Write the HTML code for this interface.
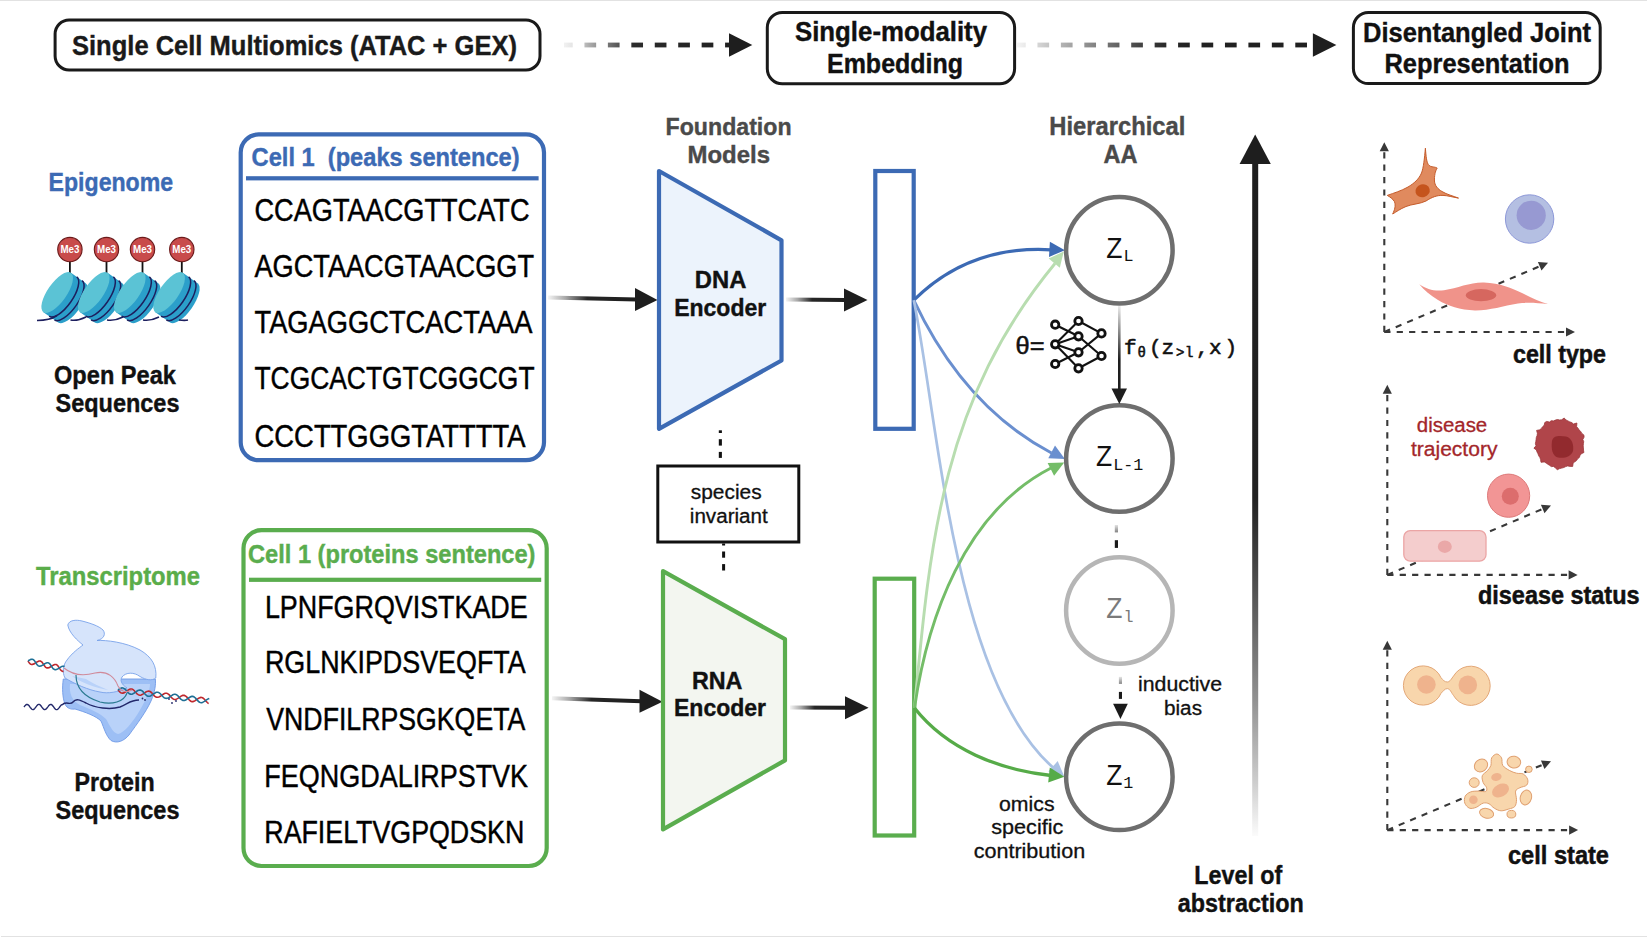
<!DOCTYPE html>
<html><head><meta charset="utf-8"><title>diagram</title>
<style>html,body{margin:0;padding:0;background:#fff;width:1648px;height:937px;overflow:hidden} svg{display:block}</style>
</head><body>
<svg width="1648" height="937" viewBox="0 0 1648 937">
<rect width="1648" height="937" fill="#fff"/>
<defs>
<linearGradient id="gA" x1="0" y1="0" x2="1" y2="0"><stop offset="0" stop-color="#f2f2f2"/><stop offset="0.45" stop-color="#777"/><stop offset="1" stop-color="#1e1e1e"/></linearGradient>
<linearGradient id="gShaft" x1="0" y1="0" x2="1" y2="0"><stop offset="0" stop-color="#dcdcdc"/><stop offset="0.35" stop-color="#333"/><stop offset="1" stop-color="#1e1e1e"/></linearGradient>
<linearGradient id="gV" x1="0" y1="0" x2="0" y2="1"><stop offset="0" stop-color="#e0e0e0"/><stop offset="0.4" stop-color="#222"/><stop offset="1" stop-color="#222"/></linearGradient>
<linearGradient id="gLvl" gradientUnits="userSpaceOnUse" x1="0" y1="160" x2="0" y2="836"><stop offset="0" stop-color="#1e1e1e"/><stop offset="0.5" stop-color="#222"/><stop offset="0.63" stop-color="#505050"/><stop offset="0.8" stop-color="#929292"/><stop offset="0.92" stop-color="#cdcdcd"/><stop offset="1" stop-color="#fbfbfb"/></linearGradient>
<linearGradient id="gVd" x1="0" y1="0" x2="0" y2="1"><stop offset="0" stop-color="#e6e6e6"/><stop offset="1" stop-color="#222"/></linearGradient>
</defs>
<rect x="0" y="0" width="1647" height="1" fill="#e2e2e2"/>
<rect x="1" y="936" width="1646" height="1" fill="#e2e2e2"/>
<rect x="55.1" y="20.0" width="484.9" height="50.0" rx="14" fill="#fff" stroke="#1a1a1a" stroke-width="3.0"/>
<text x="72" y="54.5" font-size="28" font-weight="bold" fill="#1a1a1a" text-anchor="start" font-family='"Liberation Sans", sans-serif' textLength="445" lengthAdjust="spacingAndGlyphs"  stroke="#1a1a1a" stroke-width="0.4">Single Cell Multiomics (ATAC + GEX)</text>
<rect x="767.3" y="12.45" width="247.30000000000007" height="71.3" rx="15" fill="#fff" stroke="#1a1a1a" stroke-width="3.0"/>
<text x="891" y="41.4" font-size="27.5" font-weight="bold" fill="#111" text-anchor="middle" font-family='"Liberation Sans", sans-serif' textLength="192" lengthAdjust="spacingAndGlyphs"  stroke="#111" stroke-width="0.4">Single-modality</text>
<text x="895" y="72.6" font-size="27.5" font-weight="bold" fill="#111" text-anchor="middle" font-family='"Liberation Sans", sans-serif' textLength="136" lengthAdjust="spacingAndGlyphs"  stroke="#111" stroke-width="0.4">Embedding</text>
<rect x="1353.4" y="12.5" width="246.79999999999995" height="71.1" rx="15" fill="#fff" stroke="#1a1a1a" stroke-width="3.0"/>
<text x="1477" y="41.5" font-size="27.5" font-weight="bold" fill="#111" text-anchor="middle" font-family='"Liberation Sans", sans-serif' textLength="228" lengthAdjust="spacingAndGlyphs"  stroke="#111" stroke-width="0.4">Disentangled Joint</text>
<text x="1477" y="72.5" font-size="27.5" font-weight="bold" fill="#111" text-anchor="middle" font-family='"Liberation Sans", sans-serif' textLength="185" lengthAdjust="spacingAndGlyphs"  stroke="#111" stroke-width="0.4">Representation</text>
<linearGradient id="gA1" gradientUnits="userSpaceOnUse" x1="561" y1="0" x2="729" y2="0"><stop offset="0" stop-color="#f6f6f6"/><stop offset="0.08" stop-color="#e2e2e2"/><stop offset="0.17" stop-color="#ababab"/><stop offset="0.31" stop-color="#666"/><stop offset="0.43" stop-color="#2c2c2c"/><stop offset="1" stop-color="#202020"/></linearGradient>
<rect x="564.00" y="42.6" width="8.70" height="4.8" fill="url(#gA1)"/>
<rect x="584.44" y="42.6" width="11.70" height="4.8" fill="url(#gA1)"/>
<rect x="607.88" y="42.6" width="11.70" height="4.8" fill="url(#gA1)"/>
<rect x="631.32" y="42.6" width="11.70" height="4.8" fill="url(#gA1)"/>
<rect x="654.76" y="42.6" width="11.70" height="4.8" fill="url(#gA1)"/>
<rect x="678.20" y="42.6" width="11.70" height="4.8" fill="url(#gA1)"/>
<rect x="701.64" y="42.6" width="11.70" height="4.8" fill="url(#gA1)"/>
<rect x="725.08" y="42.6" width="4.92" height="4.8" fill="url(#gA1)"/>
<polygon points="729,33.2 752.3,45 729,56.8" fill="#1e1e1e"/>
<linearGradient id="gA2" gradientUnits="userSpaceOnUse" x1="1014" y1="0" x2="1312.9" y2="0"><stop offset="0" stop-color="#f8f8f8"/><stop offset="0.03" stop-color="#ededed"/><stop offset="0.1" stop-color="#cccccc"/><stop offset="0.18" stop-color="#aaaaaa"/><stop offset="0.26" stop-color="#888"/><stop offset="0.34" stop-color="#666"/><stop offset="0.42" stop-color="#454545"/><stop offset="0.5" stop-color="#2c2c2c"/><stop offset="0.58" stop-color="#222"/><stop offset="1" stop-color="#202020"/></linearGradient>
<rect x="1017.00" y="42.6" width="8.70" height="4.8" fill="url(#gA2)"/>
<rect x="1037.44" y="42.6" width="11.70" height="4.8" fill="url(#gA2)"/>
<rect x="1060.88" y="42.6" width="11.70" height="4.8" fill="url(#gA2)"/>
<rect x="1084.32" y="42.6" width="11.70" height="4.8" fill="url(#gA2)"/>
<rect x="1107.76" y="42.6" width="11.70" height="4.8" fill="url(#gA2)"/>
<rect x="1131.20" y="42.6" width="11.70" height="4.8" fill="url(#gA2)"/>
<rect x="1154.64" y="42.6" width="11.70" height="4.8" fill="url(#gA2)"/>
<rect x="1178.08" y="42.6" width="11.70" height="4.8" fill="url(#gA2)"/>
<rect x="1201.52" y="42.6" width="11.70" height="4.8" fill="url(#gA2)"/>
<rect x="1224.96" y="42.6" width="11.70" height="4.8" fill="url(#gA2)"/>
<rect x="1248.40" y="42.6" width="11.70" height="4.8" fill="url(#gA2)"/>
<rect x="1271.84" y="42.6" width="11.70" height="4.8" fill="url(#gA2)"/>
<rect x="1295.28" y="42.6" width="11.70" height="4.8" fill="url(#gA2)"/>
<polygon points="1312.9,33.15 1336.4,45 1312.9,56.85" fill="#1e1e1e"/>
<text x="48.6" y="190.9" font-size="25.7" font-weight="bold" fill="#3c6ab4" text-anchor="start" font-family='"Liberation Sans", sans-serif' textLength="124.5" lengthAdjust="spacingAndGlyphs"  stroke="#3c6ab4" stroke-width="0.4">Epigenome</text>
<text x="115" y="383.9" font-size="26" font-weight="bold" fill="#111" text-anchor="middle" font-family='"Liberation Sans", sans-serif' textLength="122" lengthAdjust="spacingAndGlyphs"  stroke="#111" stroke-width="0.4">Open Peak</text>
<text x="117.5" y="411.9" font-size="26" font-weight="bold" fill="#111" text-anchor="middle" font-family='"Liberation Sans", sans-serif' textLength="124" lengthAdjust="spacingAndGlyphs"  stroke="#111" stroke-width="0.4">Sequences</text>
<text x="36" y="584.7" font-size="25.7" font-weight="bold" fill="#5aad4a" text-anchor="start" font-family='"Liberation Sans", sans-serif' textLength="164" lengthAdjust="spacingAndGlyphs"  stroke="#5aad4a" stroke-width="0.4">Transcriptome</text>
<text x="114.6" y="790.9" font-size="26" font-weight="bold" fill="#111" text-anchor="middle" font-family='"Liberation Sans", sans-serif' textLength="80" lengthAdjust="spacingAndGlyphs"  stroke="#111" stroke-width="0.4">Protein</text>
<text x="117.5" y="818.7" font-size="26" font-weight="bold" fill="#111" text-anchor="middle" font-family='"Liberation Sans", sans-serif' textLength="124" lengthAdjust="spacingAndGlyphs"  stroke="#111" stroke-width="0.4">Sequences</text>
<rect x="240.7" y="134.4" width="303.3" height="325.8" rx="18" fill="#fff" stroke="#3c6ab4" stroke-width="4.2"/>
<text x="251.6" y="166" font-size="25.3" font-weight="bold" fill="#3c6ab4" text-anchor="start" font-family='"Liberation Sans", sans-serif' textLength="268" lengthAdjust="spacingAndGlyphs"  stroke="#3c6ab4" stroke-width="0.4">Cell 1&#160;&#160;(peaks sentence)</text>
<rect x="246" y="176.2" width="292.6" height="4.2" fill="#3c6ab4"/>
<text x="254.5" y="220.8" font-size="31" font-weight="normal" fill="#000" text-anchor="start" font-family='"Liberation Sans", sans-serif' textLength="275" lengthAdjust="spacingAndGlyphs" stroke="#000" stroke-width="0.45">CCAGTAACGTTCATC</text>
<text x="254.5" y="276.6" font-size="31" font-weight="normal" fill="#000" text-anchor="start" font-family='"Liberation Sans", sans-serif' textLength="279.5" lengthAdjust="spacingAndGlyphs" stroke="#000" stroke-width="0.45">AGCTAACGTAACGGT</text>
<text x="254.5" y="332.8" font-size="31" font-weight="normal" fill="#000" text-anchor="start" font-family='"Liberation Sans", sans-serif' textLength="278" lengthAdjust="spacingAndGlyphs" stroke="#000" stroke-width="0.45">TAGAGGCTCACTAAA</text>
<text x="254.5" y="389.2" font-size="31" font-weight="normal" fill="#000" text-anchor="start" font-family='"Liberation Sans", sans-serif' textLength="280" lengthAdjust="spacingAndGlyphs" stroke="#000" stroke-width="0.45">TCGCACTGTCGGCGT</text>
<text x="254.5" y="446.6" font-size="31" font-weight="normal" fill="#000" text-anchor="start" font-family='"Liberation Sans", sans-serif' textLength="271" lengthAdjust="spacingAndGlyphs" stroke="#000" stroke-width="0.45">CCCTTGGGTATTTTA</text>
<rect x="243.5" y="530.2" width="303.2" height="335.8" rx="18" fill="#fff" stroke="#5aad4e" stroke-width="4.2"/>
<text x="248" y="562.6" font-size="25.3" font-weight="bold" fill="#5aad4e" text-anchor="start" font-family='"Liberation Sans", sans-serif' textLength="287.5" lengthAdjust="spacingAndGlyphs"  stroke="#5aad4e" stroke-width="0.4">Cell 1 (proteins sentence)</text>
<rect x="249" y="577.7" width="292.2" height="4.2" fill="#5aad4e"/>
<text x="264.90000000000003" y="618.2" font-size="31" font-weight="normal" fill="#000" text-anchor="start" font-family='"Liberation Sans", sans-serif' textLength="262.8" lengthAdjust="spacingAndGlyphs" stroke="#000" stroke-width="0.45">LPNFGRQVISTKADE</text>
<text x="264.90000000000003" y="673.2" font-size="31" font-weight="normal" fill="#000" text-anchor="start" font-family='"Liberation Sans", sans-serif' textLength="260.8" lengthAdjust="spacingAndGlyphs" stroke="#000" stroke-width="0.45">RGLNKIPDSVEQFTA</text>
<text x="266.3" y="730.2" font-size="31" font-weight="normal" fill="#000" text-anchor="start" font-family='"Liberation Sans", sans-serif' textLength="259" lengthAdjust="spacingAndGlyphs" stroke="#000" stroke-width="0.45">VNDFILRPSGKQETA</text>
<text x="264.3" y="787" font-size="31" font-weight="normal" fill="#000" text-anchor="start" font-family='"Liberation Sans", sans-serif' textLength="263.8" lengthAdjust="spacingAndGlyphs" stroke="#000" stroke-width="0.45">FEQNGDALIRPSTVK</text>
<text x="264.3" y="842.7" font-size="31" font-weight="normal" fill="#000" text-anchor="start" font-family='"Liberation Sans", sans-serif' textLength="260" lengthAdjust="spacingAndGlyphs" stroke="#000" stroke-width="0.45">RAFIELTVGPQDSKN</text>
<linearGradient id="sa1" gradientUnits="userSpaceOnUse" x1="548" y1="297.6" x2="635" y2="299.6"><stop offset="0" stop-color="#f4f4f4"/><stop offset="0.2" stop-color="#a8a8a8"/><stop offset="0.45" stop-color="#262626"/><stop offset="1" stop-color="#1e1e1e"/></linearGradient>
<line x1="548" y1="297.6" x2="637" y2="299.6" stroke="url(#sa1)" stroke-width="4"/>
<polygon points="635,288.1 657.5,300 635,311.1" fill="#1e1e1e"/>
<linearGradient id="sa2" gradientUnits="userSpaceOnUse" x1="786" y1="299.5" x2="844" y2="300"><stop offset="0" stop-color="#f4f4f4"/><stop offset="0.2" stop-color="#a8a8a8"/><stop offset="0.45" stop-color="#262626"/><stop offset="1" stop-color="#1e1e1e"/></linearGradient>
<line x1="786" y1="299.5" x2="846" y2="300" stroke="url(#sa2)" stroke-width="4"/>
<polygon points="844,288.5 867.5,300 844,311.5" fill="#1e1e1e"/>
<linearGradient id="sa3" gradientUnits="userSpaceOnUse" x1="552" y1="698.2" x2="639.5" y2="701.2"><stop offset="0" stop-color="#f4f4f4"/><stop offset="0.2" stop-color="#a8a8a8"/><stop offset="0.45" stop-color="#262626"/><stop offset="1" stop-color="#1e1e1e"/></linearGradient>
<line x1="552" y1="698.2" x2="641.5" y2="701.2" stroke="url(#sa3)" stroke-width="4"/>
<polygon points="639.5,689.7 662.5,701.7 639.5,712.7" fill="#1e1e1e"/>
<linearGradient id="sa4" gradientUnits="userSpaceOnUse" x1="790" y1="707.5" x2="845" y2="707.8"><stop offset="0" stop-color="#f4f4f4"/><stop offset="0.2" stop-color="#a8a8a8"/><stop offset="0.45" stop-color="#262626"/><stop offset="1" stop-color="#1e1e1e"/></linearGradient>
<line x1="790" y1="707.5" x2="847" y2="707.8" stroke="url(#sa4)" stroke-width="4"/>
<polygon points="845,696.3 868.6,707.8 845,719.3" fill="#1e1e1e"/>
<polygon points="659,171 781.5,240.3 781.5,360.5 659,428.8" fill="#ecf3fc" stroke="#3c6ab4" stroke-width="4.2" stroke-linejoin="round"/>
<text x="720.6" y="288.4" font-size="24" font-weight="bold" fill="#111" text-anchor="middle" font-family='"Liberation Sans", sans-serif' textLength="51.5" lengthAdjust="spacingAndGlyphs"  stroke="#111" stroke-width="0.4">DNA</text>
<text x="720.2" y="316" font-size="24" font-weight="bold" fill="#111" text-anchor="middle" font-family='"Liberation Sans", sans-serif' textLength="92" lengthAdjust="spacingAndGlyphs"  stroke="#111" stroke-width="0.4">Encoder</text>
<polygon points="663,571.2 785,639.2 785,760.4 663,829.4" fill="#f3f6f0" stroke="#5aad4e" stroke-width="4.2" stroke-linejoin="round"/>
<text x="717.2" y="688.5" font-size="24" font-weight="bold" fill="#111" text-anchor="middle" font-family='"Liberation Sans", sans-serif' textLength="50.5" lengthAdjust="spacingAndGlyphs"  stroke="#111" stroke-width="0.4">RNA</text>
<text x="720" y="715.8" font-size="24" font-weight="bold" fill="#111" text-anchor="middle" font-family='"Liberation Sans", sans-serif' textLength="92" lengthAdjust="spacingAndGlyphs"  stroke="#111" stroke-width="0.4">Encoder</text>
<text x="728.6" y="135.4" font-size="24.5" font-weight="bold" fill="#4a4a4a" text-anchor="middle" font-family='"Liberation Sans", sans-serif' textLength="126" lengthAdjust="spacingAndGlyphs"  stroke="#4a4a4a" stroke-width="0.4">Foundation</text>
<text x="728.8" y="163.1" font-size="24.5" font-weight="bold" fill="#4a4a4a" text-anchor="middle" font-family='"Liberation Sans", sans-serif' textLength="82.5" lengthAdjust="spacingAndGlyphs"  stroke="#4a4a4a" stroke-width="0.4">Models</text>
<rect x="875.3" y="171" width="38.4" height="257.8" fill="#fff" stroke="#3c6ab4" stroke-width="4.2"/>
<rect x="874.7" y="578.7" width="39.5" height="256.8" fill="#fff" stroke="#5aad4e" stroke-width="4.2"/>
<rect x="718.8" y="430.3" width="3.1" height="2.7" fill="#111"/>
<rect x="718.8" y="439.2" width="3.1" height="6.4" fill="#111"/>
<rect x="718.8" y="451.9" width="3.1" height="6.0" fill="#111"/>
<rect x="722.1" y="543.5" width="3.0" height="2.0" fill="#111"/>
<rect x="722.1" y="551.5" width="3.0" height="6.2" fill="#111"/>
<rect x="722.1" y="564.1" width="3.0" height="6.4" fill="#111"/>
<rect x="657.8" y="466" width="141" height="76" fill="#fff" stroke="#111" stroke-width="3"/>
<text x="726.2" y="498.7" font-size="19.5" font-weight="normal" fill="#111" text-anchor="middle" font-family='"Liberation Sans", sans-serif' textLength="70.8" lengthAdjust="spacingAndGlyphs" stroke="#111" stroke-width="0.3">species</text>
<text x="728.8" y="523.1" font-size="19.5" font-weight="normal" fill="#111" text-anchor="middle" font-family='"Liberation Sans", sans-serif' textLength="78" lengthAdjust="spacingAndGlyphs" stroke="#111" stroke-width="0.3">invariant</text>
<path d="M913.8,300.2 C 952.0,262.2 997.3,246.7 1051,249.8" fill="none" stroke="#3c6ab4" stroke-width="3.2"/>
<path d="M913.8,300.2 C 943.3,363 988.0,419.5 1051.5,453" fill="none" stroke="#6a8fcf" stroke-width="2.9"/>
<path d="M913.8,300.2 C 938.5,422.2 953.4,679.1 1053,767.5" fill="none" stroke="#a9c1e4" stroke-width="2.7"/>
<path d="M914.5,708.0 C 930.4,537.8 943.1,399.4 1055,263.5" fill="none" stroke="#b8ddb0" stroke-width="2.9"/>
<path d="M914.5,708.0 C 927.4,618.4 964.3,512.5 1051,468" fill="none" stroke="#74bd68" stroke-width="2.9"/>
<path d="M914.5,708.0 C 947.1,749.4 999.2,769.9 1051,775.5" fill="none" stroke="#56ab48" stroke-width="3.3"/>
<polygon points="1064.9,250.2 1049.0,256.9 1049.9,241.7" fill="#3c6ab4"/>
<polygon points="1063.8,251.5 1059.8,267.7 1048.7,258.5" fill="#b8ddb0"/>
<polygon points="1064.9,458.9 1048.3,458.3 1055.0,445.5" fill="#6a8fcf"/>
<polygon points="1064.2,462.5 1054.1,475.8 1047.6,463.0" fill="#74bd68"/>
<polygon points="1064.2,776.3 1048.3,771.5 1057.7,761.1" fill="#a9c1e4"/>
<polygon points="1064.4,776.7 1048.2,782.5 1049.8,767.6" fill="#56ab48"/>
<text x="1117.3" y="135" font-size="25.4" font-weight="bold" fill="#4a4a4a" text-anchor="middle" font-family='"Liberation Sans", sans-serif' textLength="136" lengthAdjust="spacingAndGlyphs"  stroke="#4a4a4a" stroke-width="0.4">Hierarchical</text>
<text x="1120.4" y="162.9" font-size="25.4" font-weight="bold" fill="#4a4a4a" text-anchor="middle" font-family='"Liberation Sans", sans-serif' textLength="34" lengthAdjust="spacingAndGlyphs"  stroke="#4a4a4a" stroke-width="0.4">AA</text>
<circle cx="1119.35" cy="250.2" r="53.25" fill="#fff" stroke="#6e6e6e" stroke-width="4.5"/>
<circle cx="1119.35" cy="458.5" r="53.25" fill="#fff" stroke="#6e6e6e" stroke-width="4.5"/>
<circle cx="1119.35" cy="610.5" r="53.25" fill="#fff" stroke="#b6b6b6" stroke-width="4.5"/>
<circle cx="1119.35" cy="776.85" r="53.25" fill="#fff" stroke="#6e6e6e" stroke-width="4.5"/>
<text x="1106.2" y="258.1" font-size="28.7" font-weight="normal" fill="#111" text-anchor="start" font-family='"Liberation Sans", sans-serif' textLength="16.2" lengthAdjust="spacingAndGlyphs" >Z</text>
<text x="1123.6" y="260.9" font-size="16.5" font-weight="normal" fill="#111" text-anchor="start" font-family='"Liberation Mono", monospace' textLength="10" lengthAdjust="spacingAndGlyphs" >L</text>
<text x="1096" y="466.1" font-size="28.7" font-weight="normal" fill="#111" text-anchor="start" font-family='"Liberation Sans", sans-serif' textLength="16.2" lengthAdjust="spacingAndGlyphs" >Z</text>
<text x="1113.3" y="470" font-size="16.5" font-weight="normal" fill="#111" text-anchor="start" font-family='"Liberation Mono", monospace' textLength="30" lengthAdjust="spacingAndGlyphs" >L-1</text>
<text x="1106.2" y="617.9" font-size="28.7" font-weight="normal" fill="#7a7a7a" text-anchor="start" font-family='"Liberation Sans", sans-serif' textLength="16.2" lengthAdjust="spacingAndGlyphs" >Z</text>
<text x="1123.5" y="622" font-size="16.5" font-weight="normal" fill="#7a7a7a" text-anchor="start" font-family='"Liberation Mono", monospace' textLength="10" lengthAdjust="spacingAndGlyphs" >l</text>
<text x="1106.2" y="785.2" font-size="28.7" font-weight="normal" fill="#111" text-anchor="start" font-family='"Liberation Sans", sans-serif' textLength="16.2" lengthAdjust="spacingAndGlyphs" >Z</text>
<text x="1123.3" y="788" font-size="16.5" font-weight="normal" fill="#111" text-anchor="start" font-family='"Liberation Mono", monospace' textLength="10" lengthAdjust="spacingAndGlyphs" >1</text>
<linearGradient id="gF" gradientUnits="userSpaceOnUse" x1="0" y1="306" x2="0" y2="360"><stop offset="0" stop-color="#ececec"/><stop offset="1" stop-color="#1e1e1e"/></linearGradient>
<line x1="1119.3" y1="306" x2="1119.3" y2="390" stroke="url(#gF)" stroke-width="2.6"/>
<polygon points="1111.5,388.5 1127,388.5 1119.3,404" fill="#1e1e1e"/>
<text x="1015.5" y="354.2" font-size="24.5" font-weight="normal" fill="#111" text-anchor="start" font-family='"Liberation Sans", sans-serif' textLength="29" lengthAdjust="spacingAndGlyphs" stroke="#111" stroke-width="0.5">θ=</text>
<line x1="1055.2" y1="324.7" x2="1078.5" y2="336.3" stroke="#111" stroke-width="2.1"/>
<line x1="1055.2" y1="344.3" x2="1078.5" y2="321" stroke="#111" stroke-width="2.1"/>
<line x1="1055.2" y1="344.3" x2="1078.5" y2="336.3" stroke="#111" stroke-width="2.1"/>
<line x1="1055.2" y1="344.3" x2="1078.5" y2="352.3" stroke="#111" stroke-width="2.1"/>
<line x1="1055.2" y1="344.3" x2="1078.5" y2="368.3" stroke="#111" stroke-width="2.1"/>
<line x1="1055.2" y1="364" x2="1078.5" y2="352.3" stroke="#111" stroke-width="2.1"/>
<line x1="1078.5" y1="321" x2="1101.5" y2="333.4" stroke="#111" stroke-width="2.1"/>
<line x1="1078.5" y1="336.3" x2="1101.5" y2="356" stroke="#111" stroke-width="2.1"/>
<line x1="1078.5" y1="352.3" x2="1101.5" y2="333.4" stroke="#111" stroke-width="2.1"/>
<line x1="1078.5" y1="368.3" x2="1101.5" y2="356" stroke="#111" stroke-width="2.1"/>
<circle cx="1055.2" cy="324.7" r="3.7" fill="#fff" stroke="#111" stroke-width="2.8"/>
<circle cx="1055.2" cy="344.3" r="3.7" fill="#fff" stroke="#111" stroke-width="2.8"/>
<circle cx="1055.2" cy="364" r="3.7" fill="#fff" stroke="#111" stroke-width="2.8"/>
<circle cx="1078.5" cy="321" r="3.7" fill="#fff" stroke="#111" stroke-width="2.8"/>
<circle cx="1078.5" cy="336.3" r="3.7" fill="#fff" stroke="#111" stroke-width="2.8"/>
<circle cx="1078.5" cy="352.3" r="3.7" fill="#fff" stroke="#111" stroke-width="2.8"/>
<circle cx="1078.5" cy="368.3" r="3.7" fill="#fff" stroke="#111" stroke-width="2.8"/>
<circle cx="1101.5" cy="333.4" r="3.7" fill="#fff" stroke="#111" stroke-width="2.8"/>
<circle cx="1101.5" cy="356" r="3.7" fill="#fff" stroke="#111" stroke-width="2.8"/>
<text y="353.8" font-family='"Liberation Mono", monospace' fill="#111" stroke="#111" stroke-width="0.55"><tspan x="1124" font-size="21">f</tspan><tspan x="1137.5" y="357" font-size="14">θ</tspan><tspan x="1149" y="353.8" font-size="21">(</tspan><tspan x="1161.5" font-size="21">z</tspan><tspan x="1176" y="356.5" font-size="14">&gt;</tspan><tspan x="1185" font-size="14">l</tspan><tspan x="1196" y="353.8" font-size="21">,</tspan><tspan x="1209" font-size="21">x</tspan><tspan x="1224.5" font-size="21">)</tspan></text>
<linearGradient id="gD1" gradientUnits="userSpaceOnUse" x1="0" y1="524" x2="0" y2="548"><stop offset="0" stop-color="#f0f0f0"/><stop offset="0.6" stop-color="#333"/><stop offset="1" stop-color="#1a1a1a"/></linearGradient>
<rect x="1114.8" y="525" width="3.2" height="7.4" fill="url(#gD1)"/>
<rect x="1114.8" y="540.2" width="3.2" height="7.7" fill="#1a1a1a"/>
<linearGradient id="gD2" gradientUnits="userSpaceOnUse" x1="0" y1="676" x2="0" y2="700"><stop offset="0" stop-color="#f0f0f0"/><stop offset="0.6" stop-color="#333"/><stop offset="1" stop-color="#1a1a1a"/></linearGradient>
<rect x="1118.9" y="676.8" width="3.1" height="7.1" fill="url(#gD2)"/>
<rect x="1118.9" y="691.9" width="3.1" height="7" fill="#1a1a1a"/>
<polygon points="1113.1,703.7 1127.8,703.7 1120.45,719" fill="#1a1a1a"/>
<text x="1180" y="691" font-size="19.5" font-weight="normal" fill="#111" text-anchor="middle" font-family='"Liberation Sans", sans-serif' textLength="84" lengthAdjust="spacingAndGlyphs" stroke="#111" stroke-width="0.3">inductive</text>
<text x="1183" y="714.6" font-size="19.5" font-weight="normal" fill="#111" text-anchor="middle" font-family='"Liberation Sans", sans-serif' textLength="38" lengthAdjust="spacingAndGlyphs" stroke="#111" stroke-width="0.3">bias</text>
<text x="1026.8" y="811" font-size="19.5" font-weight="normal" fill="#111" text-anchor="middle" font-family='"Liberation Sans", sans-serif' textLength="55.5" lengthAdjust="spacingAndGlyphs" stroke="#111" stroke-width="0.3">omics</text>
<text x="1027.3" y="833.8" font-size="19.5" font-weight="normal" fill="#111" text-anchor="middle" font-family='"Liberation Sans", sans-serif' textLength="72" lengthAdjust="spacingAndGlyphs" stroke="#111" stroke-width="0.3">specific</text>
<text x="1029.4" y="857.8" font-size="19.5" font-weight="normal" fill="#111" text-anchor="middle" font-family='"Liberation Sans", sans-serif' textLength="111.5" lengthAdjust="spacingAndGlyphs" stroke="#111" stroke-width="0.3">contribution</text>
<rect x="1252.2" y="160" width="6" height="676" fill="url(#gLvl)"/>
<polygon points="1239.6,164 1255.2,134.5 1270.8,164" fill="#1e1e1e"/>
<text x="1238.3" y="884.1" font-size="26" font-weight="bold" fill="#111" text-anchor="middle" font-family='"Liberation Sans", sans-serif' textLength="88" lengthAdjust="spacingAndGlyphs"  stroke="#111" stroke-width="0.4">Level of</text>
<text x="1240.8" y="912.1" font-size="26" font-weight="bold" fill="#111" text-anchor="middle" font-family='"Liberation Sans", sans-serif' textLength="126" lengthAdjust="spacingAndGlyphs"  stroke="#111" stroke-width="0.4">abstraction</text>
<line x1="1384.3" y1="332" x2="1384.3" y2="150.3" stroke="#383838" stroke-width="2.1" stroke-dasharray="6.2 6.2"/>
<polygon points="1384.3,142.3 1388.9,151.3 1379.7,151.3" fill="#383838"/>
<line x1="1384.3" y1="332" x2="1567" y2="332" stroke="#383838" stroke-width="2.1" stroke-dasharray="6.2 6.2"/>
<polygon points="1575.0,332.0 1566.0,336.6 1566.0,327.4" fill="#383838"/>
<line x1="1384.3" y1="332" x2="1540.6313304277553" y2="265.9149171313337" stroke="#383838" stroke-width="2.1" stroke-dasharray="6.2 6.2"/>
<polygon points="1548.0,262.8 1541.5,270.5 1537.9,262.1" fill="#383838"/>
<line x1="1387.3" y1="574.9" x2="1387.3" y2="392.7" stroke="#383838" stroke-width="2.1" stroke-dasharray="6.2 6.2"/>
<polygon points="1387.3,384.7 1391.9,393.7 1382.7,393.7" fill="#383838"/>
<line x1="1387.3" y1="574.9" x2="1569.6" y2="574.9" stroke="#383838" stroke-width="2.1" stroke-dasharray="6.2 6.2"/>
<polygon points="1577.6,574.9 1568.6,579.5 1568.6,570.3" fill="#383838"/>
<line x1="1387.3" y1="574.9" x2="1543.6361791667518" y2="508.5263625406887" stroke="#383838" stroke-width="2.1" stroke-dasharray="6.2 6.2"/>
<polygon points="1551.0,505.4 1544.5,513.2 1540.9,504.7" fill="#383838"/>
<line x1="1387.3" y1="830.1" x2="1387.3" y2="648.7" stroke="#383838" stroke-width="2.1" stroke-dasharray="6.2 6.2"/>
<polygon points="1387.3,640.7 1391.9,649.7 1382.7,649.7" fill="#383838"/>
<line x1="1387.3" y1="830.1" x2="1570.1" y2="830.1" stroke="#383838" stroke-width="2.1" stroke-dasharray="6.2 6.2"/>
<polygon points="1578.1,830.1 1569.1,834.7 1569.1,825.5" fill="#383838"/>
<line x1="1387.3" y1="830.1" x2="1543.6264931353762" y2="764.3034491323921" stroke="#383838" stroke-width="2.1" stroke-dasharray="6.2 6.2"/>
<polygon points="1551.0,761.2 1544.5,768.9 1540.9,760.5" fill="#383838"/>
<text x="1513" y="362.9" font-size="25" font-weight="bold" fill="#111" text-anchor="start" font-family='"Liberation Sans", sans-serif' textLength="93" lengthAdjust="spacingAndGlyphs" stroke="#111" stroke-width="0.5">cell type</text>
<text x="1478" y="604.1" font-size="25" font-weight="bold" fill="#111" text-anchor="start" font-family='"Liberation Sans", sans-serif' textLength="161.5" lengthAdjust="spacingAndGlyphs" stroke="#111" stroke-width="0.5">disease status</text>
<text x="1508" y="864" font-size="25" font-weight="bold" fill="#111" text-anchor="start" font-family='"Liberation Sans", sans-serif' textLength="101" lengthAdjust="spacingAndGlyphs" stroke="#111" stroke-width="0.5">cell state</text>
<text x="1452" y="432.3" font-size="20" font-weight="normal" fill="#a3262a" text-anchor="middle" font-family='"Liberation Sans", sans-serif' textLength="70.5" lengthAdjust="spacingAndGlyphs" stroke="#a3262a" stroke-width="0.3">disease</text>
<text x="1454.2" y="455.5" font-size="20" font-weight="normal" fill="#a3262a" text-anchor="middle" font-family='"Liberation Sans", sans-serif' textLength="86.5" lengthAdjust="spacingAndGlyphs" stroke="#a3262a" stroke-width="0.3">trajectory</text>
<path d="M1425.4,148.2 C1426,156 1426.5,163 1429,165.4 C1431,167.5 1435,166.5 1437.2,168.1 C1436,170 1434.5,173 1434.4,180 C1434.5,186 1438,189 1442,191.5 C1447,194.5 1453,196 1458.5,198.1 C1452,197 1448,195.6 1443,195.4 C1437,195.2 1432,197 1426,201 C1420,204 1412,204 1406,206.5 C1400,209 1396,212 1392.7,214 C1394.5,210 1396,206 1394.5,201.7 C1392.5,198.5 1390,197 1387.3,195.4 C1394,193 1401,191 1408,187 C1414,183.5 1419,179 1421.5,173 C1423.5,168 1424.5,158 1425.4,148.2 Z" fill="#e08a5e" stroke="#c55b2a" stroke-width="1"/>
<ellipse cx="1422.6" cy="190.8" rx="7.2" ry="6.4" transform="rotate(-15 1422.6 190.8)" fill="#c5541d"/>
<circle cx="1529.6" cy="219" r="24.2" fill="#b4bfe2" stroke="#8d98d8" stroke-width="1"/>
<circle cx="1531.2" cy="215.3" r="14.6" fill="#9799d2"/>
<path d="M1419.3,284.2 C1427,289 1434,291.5 1444,290.2 C1458,288 1470,282 1484,282.4 C1500,283 1512,288 1522,293 C1532,298 1540,302 1548,304 C1537,303 1528,302 1518,303.5 C1503,306 1490,310.5 1475,310.4 C1460,310 1448,306 1438,300 C1430,295 1424,290 1419.3,284.2 Z" fill="#f0938a"/>
<ellipse cx="1481" cy="295.2" rx="15.2" ry="6.1" fill="#d6675f"/>
<polygon points="1583.4,443.7 1583.2,445.8 1583.4,447.9 1583.5,450.1 1583.9,452.5 1581.2,453.8 1580.0,455.5 1579.3,457.5 1577.6,458.8 1576.5,460.6 1574.8,461.8 1573.1,463.0 1572.7,466.4 1570.2,466.4 1567.7,465.9 1565.7,466.6 1563.8,467.5 1561.7,468.1 1559.6,468.6 1557.3,469.7 1555.3,467.8 1553.5,466.4 1551.3,466.6 1549.5,465.3 1547.8,464.2 1546.1,463.0 1544.3,461.9 1541.0,462.3 1540.6,459.6 1539.9,457.5 1538.7,455.8 1538.0,453.8 1537.0,451.9 1536.4,449.9 1533.9,448.2 1536.0,445.8 1535.4,443.7 1535.8,441.6 1536.1,439.6 1536.3,437.5 1537.1,435.5 1537.4,433.3 1536.6,430.4 1539.8,429.8 1541.4,428.4 1542.6,426.7 1544.2,425.3 1544.8,422.5 1546.7,421.4 1549.5,422.1 1551.2,420.7 1553.5,420.9 1555.4,420.1 1557.5,419.5 1559.6,420.0 1561.7,419.8 1564.1,418.0 1566.0,419.9 1567.9,420.9 1569.8,421.9 1571.8,422.6 1573.4,424.0 1576.9,423.0 1576.6,426.7 1578.0,428.2 1579.2,430.0 1580.7,431.5 1581.8,433.4 1583.8,434.9 1584.1,437.1 1582.8,439.6 1583.7,441.6" fill="#b0454a" stroke="#9a3539" stroke-width="0.8"/>
<path d="M1552,441 C1553,435 1560,435.5 1566,436.5 C1572,438 1574,445 1573,451 C1571,457 1564,458.5 1558,457.5 C1552,456 1551,448 1552,441 Z" fill="#922a2e"/>
<ellipse cx="1508.6" cy="495.7" rx="21.1" ry="21.6" fill="#f29595" stroke="#dd7a7a" stroke-width="1"/>
<circle cx="1510.3" cy="496.2" r="8.5" fill="#dc6d6d"/>
<rect x="1403.8" y="530.6" width="82.2" height="30.6" rx="6.5" fill="#f4cdcd" stroke="#eba5a5" stroke-width="1.3"/>
<ellipse cx="1444.8" cy="546.7" rx="7" ry="6.2" fill="#eaa8a8"/>
<path d="M1447.3,682 C1450,682 1451.5,678.5 1453.6,676 A19.6,19.6 0 1 1 1453.6,695.6 C1451.5,693 1450,688.6 1447.3,688.6 C1444.5,688.6 1443,691.5 1441,693.3 A19.6,19.6 0 1 1 1441,677.7 C1443,680 1444.5,682 1447.3,682 Z" fill="#f8d6ac" stroke="#e3a777" stroke-width="1"/>
<circle cx="1426.4" cy="684.5" r="9.3" fill="#efb38d"/>
<circle cx="1467.8" cy="684.9" r="9.3" fill="#efb38d"/>
<path d="M1496.8,754.0 C1498.4,754.0 1500.5,755.9 1501.5,757.8 C1502.5,759.7 1501.4,763.4 1502.8,765.5 C1504.2,767.6 1507.4,769.3 1509.7,770.6 C1512.0,771.9 1514.2,772.6 1516.5,773.2 C1518.8,773.8 1521.5,773.0 1523.3,774.0 C1525.1,775.0 1527.0,777.4 1527.6,779.2 C1528.2,781.1 1528.0,783.7 1526.7,785.1 C1525.4,786.5 1521.8,786.7 1519.9,787.7 C1518.1,788.7 1516.2,789.1 1515.6,791.1 C1515.0,793.1 1516.6,797.1 1516.5,799.7 C1516.4,802.3 1516.1,805.0 1514.8,806.5 C1513.5,808.0 1511.1,808.3 1508.8,809.0 C1506.5,809.7 1503.5,810.9 1501.1,810.8 C1498.7,810.7 1496.3,809.4 1494.3,808.2 C1492.3,807.1 1491.0,804.8 1489.2,803.9 C1487.4,803.0 1485.4,802.5 1483.2,803.1 C1481.0,803.7 1478.6,806.4 1476.3,807.3 C1474.0,808.1 1471.4,808.9 1469.5,808.2 C1467.6,807.5 1465.5,805.1 1464.8,803.1 C1464.1,801.1 1464.3,798.1 1465.2,796.2 C1466.1,794.4 1468.2,792.9 1470.4,792.0 C1472.6,791.1 1475.5,791.2 1478.1,791.1 C1480.6,791.0 1484.3,792.1 1485.7,791.5 C1487.1,790.9 1487.0,789.2 1486.6,787.7 C1486.2,786.2 1483.9,784.6 1483.2,782.6 C1482.5,780.6 1481.6,777.7 1482.3,775.7 C1483.0,773.7 1486.1,772.3 1487.5,770.6 C1488.9,768.9 1490.2,767.6 1490.9,765.5 C1491.6,763.4 1490.7,759.7 1491.7,757.8 C1492.7,755.9 1495.2,754.0 1496.8,754.0 Z" fill="#f8d6ac" stroke="#e0a070" stroke-width="1"/>
<ellipse cx="1496.4" cy="777" rx="5.3" ry="3.8" transform="rotate(-15 1496.4 777)" fill="#efb38d"/>
<ellipse cx="1500.5" cy="790.5" rx="9" ry="6.3" transform="rotate(-28 1500.5 790.5)" fill="#efb38d"/>
<ellipse cx="1473.4" cy="799.7" rx="4.3" ry="4.3" transform="rotate(0 1473.4 799.7)" fill="#efb38d"/>
<ellipse cx="1481" cy="765.5" rx="7" ry="6" transform="rotate(-40 1481 765.5)" fill="#f8d6ac" stroke="#e0a070" stroke-width="1"/>
<ellipse cx="1513.9" cy="762.1" rx="6.8" ry="5.9" transform="rotate(10 1513.9 762.1)" fill="#f8d6ac" stroke="#e0a070" stroke-width="1"/>
<ellipse cx="1528.9" cy="769.3" rx="3.3" ry="3.2" transform="rotate(0 1528.9 769.3)" fill="#f8d6ac" stroke="#e0a070" stroke-width="1"/>
<ellipse cx="1474.2" cy="782.6" rx="5" ry="4.8" transform="rotate(0 1474.2 782.6)" fill="#f8d6ac" stroke="#e0a070" stroke-width="1"/>
<ellipse cx="1525.9" cy="797.5" rx="5.6" ry="7.5" transform="rotate(15 1525.9 797.5)" fill="#f8d6ac" stroke="#e0a070" stroke-width="1"/>
<ellipse cx="1486.6" cy="813.3" rx="7.2" ry="4.8" transform="rotate(15 1486.6 813.3)" fill="#f8d6ac" stroke="#e0a070" stroke-width="1"/>
<ellipse cx="1511.4" cy="814.2" rx="4.4" ry="3.8" transform="rotate(0 1511.4 814.2)" fill="#f8d6ac" stroke="#e0a070" stroke-width="1"/>
<line x1="69.9" y1="261" x2="69.9" y2="274" stroke="#111" stroke-width="1.8"/>
<g transform="translate(57.2,292.5) rotate(35)">
<path d="M0,-24 L18,-24 A9.5,24 0 0 1 18,24 L0,24 Z" fill="#2b9fca"/>
<ellipse cx="0" cy="0" rx="9.5" ry="24" fill="#5bc3d5"/>
<path d="M7,-24 A9.5,24 0 0 1 7,24" fill="none" stroke="#1d1f5e" stroke-width="1.5"/>
<path d="M13.5,-24 A9.5,24 0 0 1 13.5,24" fill="none" stroke="#1d1f5e" stroke-width="1.5"/>
</g>
<circle cx="69.9" cy="249.6" r="12.2" fill="#c84b4b" stroke="#6b1a1a" stroke-width="1.1"/>
<text x="69.9" y="253.2" font-size="10" font-weight="bold" fill="#fff" text-anchor="middle" font-family='"Liberation Sans", sans-serif' textLength="19" lengthAdjust="spacingAndGlyphs">Me3</text>
<line x1="106.5" y1="261" x2="106.5" y2="274" stroke="#111" stroke-width="1.8"/>
<g transform="translate(93.80000000000001,292.5) rotate(35)">
<path d="M0,-24 L18,-24 A9.5,24 0 0 1 18,24 L0,24 Z" fill="#2b9fca"/>
<ellipse cx="0" cy="0" rx="9.5" ry="24" fill="#5bc3d5"/>
<path d="M7,-24 A9.5,24 0 0 1 7,24" fill="none" stroke="#1d1f5e" stroke-width="1.5"/>
<path d="M13.5,-24 A9.5,24 0 0 1 13.5,24" fill="none" stroke="#1d1f5e" stroke-width="1.5"/>
</g>
<circle cx="106.5" cy="249.6" r="12.2" fill="#c84b4b" stroke="#6b1a1a" stroke-width="1.1"/>
<text x="106.5" y="253.2" font-size="10" font-weight="bold" fill="#fff" text-anchor="middle" font-family='"Liberation Sans", sans-serif' textLength="19" lengthAdjust="spacingAndGlyphs">Me3</text>
<line x1="142.5" y1="261" x2="142.5" y2="274" stroke="#111" stroke-width="1.8"/>
<g transform="translate(129.8,292.5) rotate(35)">
<path d="M0,-24 L18,-24 A9.5,24 0 0 1 18,24 L0,24 Z" fill="#2b9fca"/>
<ellipse cx="0" cy="0" rx="9.5" ry="24" fill="#5bc3d5"/>
<path d="M7,-24 A9.5,24 0 0 1 7,24" fill="none" stroke="#1d1f5e" stroke-width="1.5"/>
<path d="M13.5,-24 A9.5,24 0 0 1 13.5,24" fill="none" stroke="#1d1f5e" stroke-width="1.5"/>
</g>
<circle cx="142.5" cy="249.6" r="12.2" fill="#c84b4b" stroke="#6b1a1a" stroke-width="1.1"/>
<text x="142.5" y="253.2" font-size="10" font-weight="bold" fill="#fff" text-anchor="middle" font-family='"Liberation Sans", sans-serif' textLength="19" lengthAdjust="spacingAndGlyphs">Me3</text>
<line x1="181.8" y1="261" x2="181.8" y2="274" stroke="#111" stroke-width="1.8"/>
<g transform="translate(169.10000000000002,292.5) rotate(35)">
<path d="M0,-24 L18,-24 A9.5,24 0 0 1 18,24 L0,24 Z" fill="#2b9fca"/>
<ellipse cx="0" cy="0" rx="9.5" ry="24" fill="#5bc3d5"/>
<path d="M7,-24 A9.5,24 0 0 1 7,24" fill="none" stroke="#1d1f5e" stroke-width="1.5"/>
<path d="M13.5,-24 A9.5,24 0 0 1 13.5,24" fill="none" stroke="#1d1f5e" stroke-width="1.5"/>
</g>
<circle cx="181.8" cy="249.6" r="12.2" fill="#c84b4b" stroke="#6b1a1a" stroke-width="1.1"/>
<text x="181.8" y="253.2" font-size="10" font-weight="bold" fill="#fff" text-anchor="middle" font-family='"Liberation Sans", sans-serif' textLength="19" lengthAdjust="spacingAndGlyphs">Me3</text>
<path d="M37,320.5 C45,320.5 52,319 57,315.5 M70.5,320 C76,321 82,319 86,317 M107,320 C113,321 119,319 123,317 M143,320 C149,321 155,319 159,317 M179,320 C183,320.5 186,320.5 188,320" fill="none" stroke="#1d1f5e" stroke-width="1.6"/>
<path d="M63.3,679 C62,688 62.5,698 65,704 C67,709 72,709.5 75,709 C85,712 96,716 101,721 C104,728 106,736 111,740.5 C117,744 124,741 129,735 C137,724 146,712 151,701 C155,692 156,684 155.3,679 Z" fill="#9dbff5" stroke="#6f9ae6" stroke-width="0.9"/>
<path d="M70,684 C69,693 72,701 80,705 C92,710 100,713 106,719 C110,726 113,733 118,734 C124,733 133,722 140,710 C146,700 150,690 150,684 Z" fill="#b9d2f9"/>
<path d="M67.8,625 C69,620 76,619.5 82,621 C90,623 99,626 103,630 C106,634 104,639 97,640.5 C106,640 125,642 140,650 C152,657 157,666 155.8,678 C152,681 146,680 140,676.5 C134,672 126,672 122,677 C119,682 124,686 127,688 C118,692 108,694 100,692 C88,690 75,684 65,678 C62,672 63,665 67,660 C72,653 79,648 83,645 C78,641 69,633 67.8,625 Z" fill="#d6e4fb" stroke="#79a3ea" stroke-width="0.9"/>
<path d="M72,676 C80,682 95,688 108,690 C101,687 92,683 86,679 Z" fill="#b9d2f9"/>
<polyline points="28.0,661.0 28.2,661.4 28.5,661.7 28.7,662.1 28.9,662.4 29.2,662.8 29.4,663.1 29.7,663.4 29.9,663.6 30.2,663.8 30.5,664.0 30.8,664.2 31.0,664.3 31.3,664.4 31.6,664.5 32.0,664.5 32.3,664.4 32.6,664.4 32.9,664.3 33.3,664.2 33.6,664.0 34.0,663.9 34.3,663.7 34.7,663.5 35.1,663.2 35.4,663.0 35.8,662.8 36.2,662.5 36.5,662.3 36.9,662.1 37.3,661.8 37.6,661.7 38.0,661.5 38.3,661.3 38.7,661.2 39.0,661.1 39.3,661.0 39.6,661.0 40.0,661.0 40.3,661.1 40.6,661.1 40.8,661.3 41.1,661.4 41.4,661.6 41.7,661.8 41.9,662.1 42.2,662.3 42.4,662.7 42.7,663.0 42.9,663.3 43.1,663.7 43.4,664.0 43.6,664.4 43.8,664.8 44.1,665.2 44.3,665.5 44.5,665.9 44.8,666.2 45.0,666.5 45.3,666.8 45.5,667.1 45.8,667.3 46.1,667.5 46.4,667.6 46.6,667.8 46.9,667.9 47.2,667.9 47.5,667.9 47.9,667.9 48.2,667.9 48.5,667.8 48.9,667.7 49.2,667.5 49.6,667.4 49.9,667.2 50.3,667.0 50.6,666.7 51.0,666.5 51.4,666.3 51.8,666.0 52.1,665.8 52.5,665.6 52.8,665.4 53.2,665.2 53.6,665.0 53.9,664.8 54.3,664.7 54.6,664.6 54.9,664.5 55.2,664.5 55.6,664.5 55.9,664.5 56.2,664.6 56.5,664.7 56.7,664.9 57.0,665.0 57.3,665.3 57.5,665.5 57.8,665.8 58.0,666.1 58.3,666.4 58.5,666.7 58.8,667.1 59.0,667.5 59.2,667.8 59.5,668.2 59.7,668.6 59.9,668.9 60.2,669.3 60.4,669.6 60.6,669.9 60.9,670.2 61.2,670.5 61.4,670.7 61.7,670.9 62.0,671.1 62.2,671.2 62.5,671.3 62.8,671.4 63.1,671.4 63.5,671.4" fill="none" stroke="#c0282d" stroke-width="1.6"/>
<polyline points="28.0,661.0 28.4,660.8 28.7,660.5 29.1,660.3 29.5,660.1 29.8,659.9 30.2,659.7 30.5,659.6 30.9,659.4 31.2,659.4 31.5,659.3 31.8,659.3 32.2,659.3 32.5,659.3 32.8,659.4 33.0,659.5 33.3,659.7 33.6,659.9 33.9,660.1 34.1,660.4 34.4,660.6 34.6,660.9 34.9,661.3 35.1,661.6 35.3,662.0 35.6,662.3 35.8,662.7 36.0,663.1 36.3,663.4 36.5,663.8 36.7,664.2 37.0,664.5 37.2,664.8 37.5,665.1 37.7,665.3 38.0,665.6 38.3,665.8 38.6,665.9 38.8,666.0 39.1,666.1 39.4,666.2 39.8,666.2 40.1,666.2 40.4,666.1 40.7,666.0 41.1,665.9 41.4,665.8 41.8,665.6 42.1,665.4 42.5,665.2 42.9,665.0 43.2,664.8 43.6,664.5 44.0,664.3 44.3,664.0 44.7,663.8 45.1,663.6 45.4,663.4 45.8,663.2 46.1,663.1 46.5,662.9 46.8,662.8 47.1,662.8 47.4,662.8 47.8,662.8 48.1,662.8 48.4,662.9 48.7,663.0 48.9,663.1 49.2,663.3 49.5,663.5 49.7,663.8 50.0,664.1 50.2,664.4 50.5,664.7 50.7,665.0 51.0,665.4 51.2,665.7 51.4,666.1 51.6,666.5 51.9,666.9 52.1,667.2 52.4,667.6 52.6,667.9 52.8,668.2 53.1,668.5 53.3,668.8 53.6,669.0 53.9,669.2 54.2,669.4 54.4,669.5 54.7,669.6 55.0,669.7 55.3,669.7 55.7,669.7 56.0,669.6 56.3,669.5 56.7,669.4 57.0,669.3 57.4,669.1 57.7,668.9 58.1,668.7 58.4,668.5 58.8,668.3 59.2,668.0 59.5,667.8 59.9,667.6 60.3,667.3 60.6,667.1 61.0,666.9 61.4,666.7 61.7,666.6 62.0,666.4 62.4,666.3 62.7,666.3 63.0,666.2 63.4,666.2 63.7,666.3 64.0,666.3 64.3,666.4 64.5,666.6" fill="none" stroke="#1f7096" stroke-width="1.6"/>
<polyline points="118.0,690.0 118.7,690.8 119.4,691.5 120.0,692.2 120.8,692.7 121.5,693.0 122.2,693.1 123.0,693.1 123.8,692.9 124.6,692.5 125.5,692.0 126.3,691.4 127.1,690.8 128.0,690.2 128.8,689.7 129.6,689.3 130.4,689.0 131.2,689.0 132.0,689.1 132.7,689.4 133.4,689.9 134.1,690.5 134.8,691.3 135.4,692.1 136.1,692.8 136.8,693.6 137.5,694.2 138.2,694.7 138.9,695.1 139.7,695.2 140.5,695.2 141.2,695.0 142.1,694.6 142.9,694.1 143.7,693.5 144.6,692.9 145.4,692.3 146.2,691.8 147.1,691.4 147.9,691.2 148.6,691.1 149.4,691.2 150.1,691.5 150.8,692.0 151.5,692.6 152.2,693.3 152.9,694.1 153.6,694.9 154.2,695.6 154.9,696.3 155.6,696.8 156.4,697.2 157.1,697.3 157.9,697.3 158.7,697.1 159.5,696.8 160.3,696.3 161.2,695.7 162.0,695.1 162.9,694.5 163.7,694.0 164.5,693.6 165.3,693.3 166.1,693.2 166.8,693.3 167.6,693.6 168.3,694.1 169.0,694.7 169.7,695.4 170.3,696.2 171.0,697.0 171.7,697.7 172.4,698.4 173.1,698.9 173.8,699.3 174.6,699.5 175.3,699.5 176.1,699.3 176.9,698.9 177.8,698.4 178.6,697.9 179.4,697.3 180.3,696.7 181.1,696.1 181.9,695.7 182.7,695.4 183.5,695.3 184.3,695.4 185.0,695.7 185.7,696.1 186.4,696.7 187.1,697.4 187.8,698.2 188.5,699.0 189.1,699.8 189.8,700.4 190.5,701.0 191.3,701.4 192.0,701.6 192.8,701.6 193.6,701.4 194.4,701.1 195.2,700.6 196.0,700.0 196.9,699.4 197.7,698.8 198.6,698.3 199.4,697.9 200.2,697.6 201.0,697.4 201.7,697.5 202.5,697.8 203.2,698.2 203.9,698.8 204.6,699.5 205.2,700.3 205.9,701.1 206.6,701.8 207.3,702.5 208.0,703.1 208.7,703.5" fill="none" stroke="#c0282d" stroke-width="1.6"/>
<polyline points="118.0,690.0 118.8,689.4 119.7,688.8 120.5,688.4 121.3,688.1 122.1,687.9 122.9,688.0 123.6,688.2 124.3,688.6 125.0,689.2 125.7,689.9 126.4,690.6 127.1,691.4 127.7,692.2 128.4,692.9 129.1,693.5 129.8,693.9 130.6,694.1 131.3,694.2 132.1,694.1 132.9,693.8 133.8,693.3 134.6,692.8 135.4,692.2 136.3,691.6 137.1,691.0 137.9,690.5 138.7,690.2 139.5,690.1 140.3,690.1 141.0,690.3 141.8,690.7 142.5,691.2 143.2,691.9 143.8,692.7 144.5,693.5 145.2,694.3 145.9,695.0 146.6,695.5 147.3,696.0 148.0,696.2 148.8,696.3 149.6,696.2 150.4,695.9 151.2,695.5 152.0,694.9 152.9,694.3 153.7,693.7 154.6,693.2 155.4,692.7 156.2,692.3 157.0,692.2 157.7,692.2 158.5,692.4 159.2,692.8 159.9,693.3 160.6,694.0 161.3,694.7 162.0,695.5 162.6,696.3 163.3,697.0 164.0,697.6 164.7,698.1 165.5,698.3 166.2,698.4 167.0,698.3 167.8,698.0 168.6,697.6 169.5,697.1 170.3,696.5 171.1,695.9 172.0,695.3 172.8,694.8 173.6,694.5 174.4,694.3 175.2,694.3 175.9,694.5 176.7,694.9 177.4,695.4 178.1,696.0 178.7,696.8 179.4,697.6 180.1,698.4 180.8,699.1 181.5,699.7 182.2,700.1 182.9,700.4 183.7,700.5 184.4,700.4 185.2,700.2 186.1,699.8 186.9,699.2 187.7,698.6 188.6,698.0 189.4,697.5 190.3,697.0 191.1,696.6 191.9,696.4 192.6,696.4 193.4,696.6 194.1,696.9 194.8,697.5 195.5,698.1 196.2,698.9 196.9,699.6 197.5,700.4 198.2,701.1 198.9,701.8 199.6,702.2 200.4,702.5 201.1,702.7 201.9,702.6 202.7,702.3 203.5,701.9 204.3,701.4 205.2,700.8 206.0,700.2 206.9,699.6 207.7,699.1 208.5,698.8 209.3,698.5" fill="none" stroke="#1f7096" stroke-width="1.6"/>
<path d="M64,668 C70,673 80,677 95,673 C108,670 115,678 118,686 C122,693 128,692 132,690" fill="none" stroke="#d08a9a" stroke-width="1.1"/>
<path d="M76,675 C76,688 84,697 100,702 C112,705 124,702 127,693" fill="none" stroke="#2a7a90" stroke-width="1.2"/>
<polyline points="24.0,707.0 24.6,706.1 25.3,705.4 25.9,704.8 26.5,704.5 27.2,704.4 27.8,704.6 28.4,705.1 29.1,705.8 29.7,706.7 30.3,707.5 31.0,708.3 31.6,709.0 32.2,709.4 32.9,709.6 33.5,709.5 34.1,709.1 34.8,708.4 35.4,707.6 36.0,706.8 36.7,705.9 37.3,705.2 37.9,704.7 38.6,704.4 39.2,704.4 39.8,704.7 40.5,705.3 41.1,706.0 41.7,706.9 42.4,707.8 43.0,708.5 43.6,709.1 44.3,709.5 44.9,709.6 45.5,709.4 46.2,708.9 46.8,708.3 47.4,707.4 48.1,706.6 48.7,705.7 49.3,705.1 50.0,704.6 50.6,704.4 51.2,704.5 51.9,704.9 52.5,705.5 53.1,706.2 53.8,707.1 54.4,708.0 55.0,708.7 55.7,709.3 56.3,709.6 56.9,709.6 57.6,709.3 58.2,708.8 58.8,708.1 59.5,707.2 60.1,706.4 60.7,705.6 61.4,704.9 62.0,704.5" fill="none" stroke="#23296b" stroke-width="1.4"/>
<path d="M62,705 C66,700 70,706 73,702 C76,698 80,700 86,703 C95,708 110,710 120,707 C128,704 130,700 139,700" fill="none" stroke="#23296b" stroke-width="1.4"/>
<circle cx="142.5" cy="698.5" r="0.9" fill="#23296b"/>
<circle cx="145" cy="700" r="0.9" fill="#23296b"/>
<circle cx="169" cy="699" r="0.9" fill="#23296b"/>
<circle cx="172" cy="703" r="0.9" fill="#23296b"/>
<circle cx="176" cy="701" r="0.9" fill="#23296b"/>
</svg>
</body></html>
